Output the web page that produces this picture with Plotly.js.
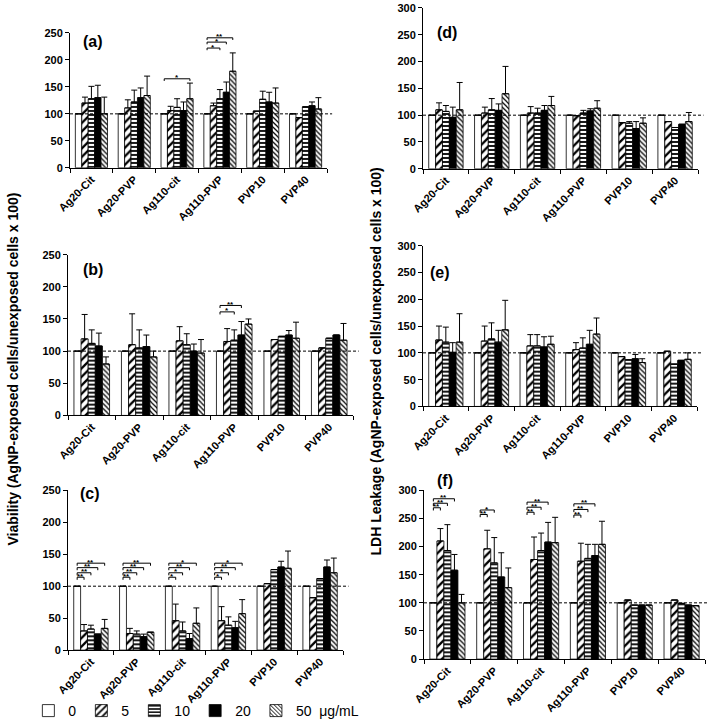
<!DOCTYPE html>
<html>
<head>
<meta charset="utf-8">
<script src="https://cdn.plot.ly/plotly-3.0.1.min.js"></script>
<style>html,body{margin:0;padding:0;background:#fff}#chart{width:709px;height:727px}</style>
</head>
<body>
<div id="chart"></div>
<script>
// ---------------- DATA ----------------
const categories = ['Ag20-Cit', 'Ag20-PVP', 'Ag110-cit', 'Ag110-PVP', 'PVP10', 'PVP40'];
const doses = ['0', '5', '10', '20', '50'];
const legendNames = ['0', '5', '10', '20', '50  μg/mL'];
const panelLabels = ['(a)', '(b)', '(c)', '(d)', '(e)', '(f)'];
const viabilityTitle = 'Viability (AgNP-exposed cells/unexposed cells x 100)';
const ldhTitle = 'LDH Leakage (AgNP-exposed cells/unexposed cells x 100)';

// rows = doses (0,5,10,20,50 µg/mL); columns = categories
const valuesA = [
  [100, 100, 100, 100, 100, 100],
  [120, 111, 106, 115, 105, 93],
  [128, 122, 112, 128, 127, 113],
  [130, 130, 106, 140, 122, 115],
  [100, 134, 128, 179, 120, 109]
];
const errorsA = [
  [0, 0, 0, 0, 0, 0],
  [11, 15, 8, 5, 0, 0],
  [23, 22, 16, 17, 15, 0],
  [23, 18, 16, 19, 18, 7],
  [31, 36, 29, 34, 28, 21]
];
const valuesB = [
  [100, 100, 100, 100, 100, 100],
  [119, 110, 116, 115, 118, 105],
  [112, 105, 110, 117, 123, 120],
  [108, 107, 100, 125, 125, 125],
  [80, 91, 97, 142, 120, 117]
];
const errorsB = [
  [0, 0, 0, 0, 0, 0],
  [38, 48, 22, 20, 0, 0],
  [21, 28, 17, 16, 0, 0],
  [20, 18, 11, 21, 7, 0],
  [11, 9, 21, 8, 25, 26]
];
const valuesC = [
  [100, 100, 100, 100, 100, 100],
  [30, 26, 46, 46, 104, 82],
  [33, 25, 30, 39, 126, 112],
  [25, 21, 18, 35, 130, 130],
  [34, 28, 42, 57, 128, 121]
];
const errorsC = [
  [0, 0, 0, 0, 0, 0],
  [10, 8, 26, 22, 0, 0],
  [6, 5, 14, 13, 0, 0],
  [0, 4, 8, 10, 9, 11],
  [14, 0, 24, 22, 27, 23]
];
const valuesD = [
  [100, 100, 100, 100, 100, 100],
  [110, 104, 104, 99, 86, 88],
  [107, 110, 104, 104, 85, 77],
  [96, 109, 109, 108, 75, 83],
  [110, 140, 118, 113, 85, 88]
];
const errorsD = [
  [0, 0, 0, 0, 0, 0],
  [13, 11, 12, 0, 0, 0],
  [11, 21, 9, 5, 3, 0],
  [19, 12, 9, 4, 13, 0],
  [51, 51, 17, 14, 10, 17]
];
const valuesE = [
  [100, 100, 100, 100, 100, 100],
  [124, 122, 113, 106, 93, 103],
  [120, 126, 113, 109, 87, 79],
  [101, 120, 111, 116, 89, 86],
  [120, 143, 116, 135, 82, 88]
];
const errorsE = [
  [0, 0, 0, 0, 0, 0],
  [26, 28, 21, 13, 0, 0],
  [28, 30, 21, 19, 0, 0],
  [18, 22, 19, 26, 8, 0],
  [53, 55, 15, 30, 7, 12]
];
const valuesF = [
  [100, 100, 100, 100, 100, 100],
  [210, 196, 177, 174, 105, 105],
  [193, 171, 193, 179, 96, 99],
  [158, 146, 208, 184, 96, 96],
  [100, 127, 207, 204, 96, 95]
];
const errorsF = [
  [0, 0, 0, 0, 0, 0],
  [22, 33, 40, 32, 0, 0],
  [46, 45, 31, 25, 0, 0],
  [28, 43, 35, 20, 0, 0],
  [15, 35, 45, 41, 0, 0]
];

// significance brackets: category index, dose index the bracket ends at (starts at dose 0), height, label
const bracketsA = {group: [2, 3, 3, 3], to: [4, 4, 3, 2], y: [165, 241, 233, 222], label: ['*', '**', '*', '*']};
const bracketsB = {group: [3, 3], to: [3, 2], y: [171, 161], label: ['**', '*']};
const bracketsC = {
  group: [0, 0, 0, 0, 1, 1, 1, 1, 2, 2, 2, 2, 3, 3, 3, 3],
  to:    [4, 3, 2, 1, 4, 3, 2, 1, 4, 3, 2, 1, 4, 3, 2, 1],
  y:     [136, 129, 121, 114, 136, 129, 121, 114, 136, 129, 121, 114, 136, 129, 121, 114],
  label: ['**', '**', '**', '**', '**', '**', '**', '**', '*', '**', '*', '*', '*', '**', '*', '*']
};
const bracketsD = {group: [], to: [], y: [], label: []};
const bracketsE = {group: [], to: [], y: [], label: []};
const bracketsF = {
  group: [0, 0, 0, 1, 1, 2, 2, 2, 3, 3, 3],
  to:    [3, 2, 1, 2, 1, 3, 2, 1, 3, 2, 1],
  y:     [285, 277, 269, 265, 257, 279, 270, 261, 276, 266, 256],
  label: ['**', '**', '**', '*', '**', '**', '**', '**', '**', '**', '**']
};

// ---------------- LAYOUT / STYLE ----------------
const W = 709, H = 727;
const FONT = 'Liberation Sans, Arial, sans-serif';
const BARGAP = 0.25;

// pixel boxes [left, right, top, bottom]
const panels = [
  {box: [70, 327, 33, 168], ymax: 250, vals: valuesA, errs: errorsA, br: bracketsA, lab: [93, 42]},
  {box: [68, 353, 255, 416], ymax: 250, vals: valuesB, errs: errorsB, br: bracketsB, lab: [93, 270]},
  {box: [68, 343, 491, 651], ymax: 250, vals: valuesC, errs: errorsC, br: bracketsC, lab: [90, 494]},
  {box: [423, 698, 8, 169], ymax: 300, vals: valuesD, errs: errorsD, br: bracketsD, lab: [447, 33]},
  {box: [423, 697, 246, 407], ymax: 300, vals: valuesE, errs: errorsE, br: bracketsE, lab: [440, 273]},
  {box: [424, 705, 491, 660], ymax: 300, vals: valuesF, errs: errorsF, br: bracketsF, lab: [445, 481]}
];

const patterns = [
  null,
  {shape: '/', fgcolor: '#000', bgcolor: '#fff', size: 6, solidity: 0.38, fillmode: 'replace'},
  {shape: '-', fgcolor: '#000', bgcolor: '#fff', size: 4, solidity: 0.45, fillmode: 'replace'},
  null,
  {shape: '\\', fgcolor: '#000', bgcolor: '#fff', size: 3.5, solidity: 0.35, fillmode: 'replace'}
];
const fillColors = ['#fff', '#fff', '#fff', '#000', '#fff'];

const traces = [];
const layout = {
  width: W, height: H,
  margin: {l: 0, r: 0, t: 0, b: 0},
  paper_bgcolor: '#fff', plot_bgcolor: '#fff',
  barmode: 'group', bargap: BARGAP, bargroupgap: 0,
  font: {family: FONT, color: '#000'},
  showlegend: true,
  legend: {
    orientation: 'h', x: 0.04, y: 0.021, xanchor: 'left', yanchor: 'middle',
    font: {family: FONT, size: 14, color: '#000'}, itemwidth: 30, traceorder: 'normal',
    bgcolor: 'rgba(0,0,0,0)'
  },
  shapes: [], annotations: []
};

const zeros = categories.map(() => 0);
const groupW = 1 - BARGAP, barW = groupW / doses.length;
const barCenter = (g, k) => g - groupW / 2 + barW * (k + 0.5);

panels.forEach((p, i) => {
  const n = i === 0 ? '' : String(i + 1);
  const xa = 'x' + n, ya = 'y' + n;
  const [l, r, t, b] = p.box;
  layout['xaxis' + n] = {
    domain: [l / W, r / W], anchor: ya, type: 'category',
    showline: true, linecolor: '#000', linewidth: 1, mirror: false,
    ticks: 'outside', ticklen: 4, tickcolor: '#000', tickson: 'boundaries',
    tickangle: -45, tickfont: {family: FONT, size: 11, weight: 'bold', color: '#000'},
    showgrid: false, zeroline: false, fixedrange: true
  };
  layout['yaxis' + n] = {
    domain: [1 - b / H, 1 - t / H], anchor: xa, range: [0, p.ymax], dtick: 50,
    showline: true, linecolor: '#000', linewidth: 1,
    ticks: 'outside', ticklen: 4, tickcolor: '#000',
    tickfont: {family: FONT, size: 11, weight: 'bold', color: '#000'},
    showgrid: false, zeroline: false, fixedrange: true
  };
  doses.forEach((d, k) => {
    const marker = {color: fillColors[k], line: {color: '#000', width: 0.8}};
    if (patterns[k]) marker.pattern = patterns[k];
    traces.push({
      type: 'bar', x: categories, y: p.vals[k], xaxis: xa, yaxis: ya,
      name: legendNames[k], legendgroup: 'dose' + d, showlegend: i === 0,
      marker: marker,
      error_y: {type: 'data', symmetric: false, array: p.errs[k], arrayminus: zeros,
                color: '#000', thickness: 1, width: 3},
      hoverinfo: 'skip'
    });
  });
  // reference line at 100
  layout.shapes.push({type: 'line', xref: xa + ' domain', yref: ya, x0: 0, x1: 1.02, y0: 100, y1: 100,
                      line: {color: '#000', width: 1, dash: '3px,2px'}, layer: 'above'});
  // brackets
  const tick = p.ymax * 0.016;
  p.br.group.forEach((g, j) => {
    const x0 = barCenter(g, 0), x1 = barCenter(g, p.br.to[j]), y = p.br.y[j];
    const ln = {color: '#000', width: 1};
    layout.shapes.push({type: 'line', xref: xa, yref: ya, x0: x0, x1: x1, y0: y, y1: y, line: ln});
    layout.shapes.push({type: 'line', xref: xa, yref: ya, x0: x0, x1: x0, y0: y, y1: y - tick, line: ln});
    layout.shapes.push({type: 'line', xref: xa, yref: ya, x0: x1, x1: x1, y0: y, y1: y - tick, line: ln});
    layout.annotations.push({xref: xa, yref: ya, x: (x0 + x1) / 2, y: y, text: p.br.label[j],
      showarrow: false, yanchor: 'middle', yshift: 1, borderpad: 0,
      font: {family: FONT, size: 8, weight: 'bold', color: '#000'}});
  });
  // panel label
  layout.annotations.push({xref: 'paper', yref: 'paper', x: p.lab[0] / W, y: 1 - p.lab[1] / H,
    text: panelLabels[i], showarrow: false, xanchor: 'center', yanchor: 'middle',
    font: {family: FONT, size: 16, weight: 'bold', color: '#000'}});
});

// axis titles
layout.annotations.push({xref: 'paper', yref: 'paper', x: 13 / W, y: 1 - 370 / H, text: viabilityTitle,
  textangle: -90, showarrow: false, xanchor: 'center', yanchor: 'middle',
  font: {family: FONT, size: 14, weight: 'bold', color: '#000'}});
layout.annotations.push({xref: 'paper', yref: 'paper', x: 376 / W, y: 1 - 362 / H, text: ldhTitle,
  textangle: -90, showarrow: false, xanchor: 'center', yanchor: 'middle',
  font: {family: FONT, size: 14, weight: 'bold', color: '#000'}});

Plotly.newPlot('chart', traces, layout, {staticPlot: true, displayModeBar: false});
</script>
</body>
</html>
